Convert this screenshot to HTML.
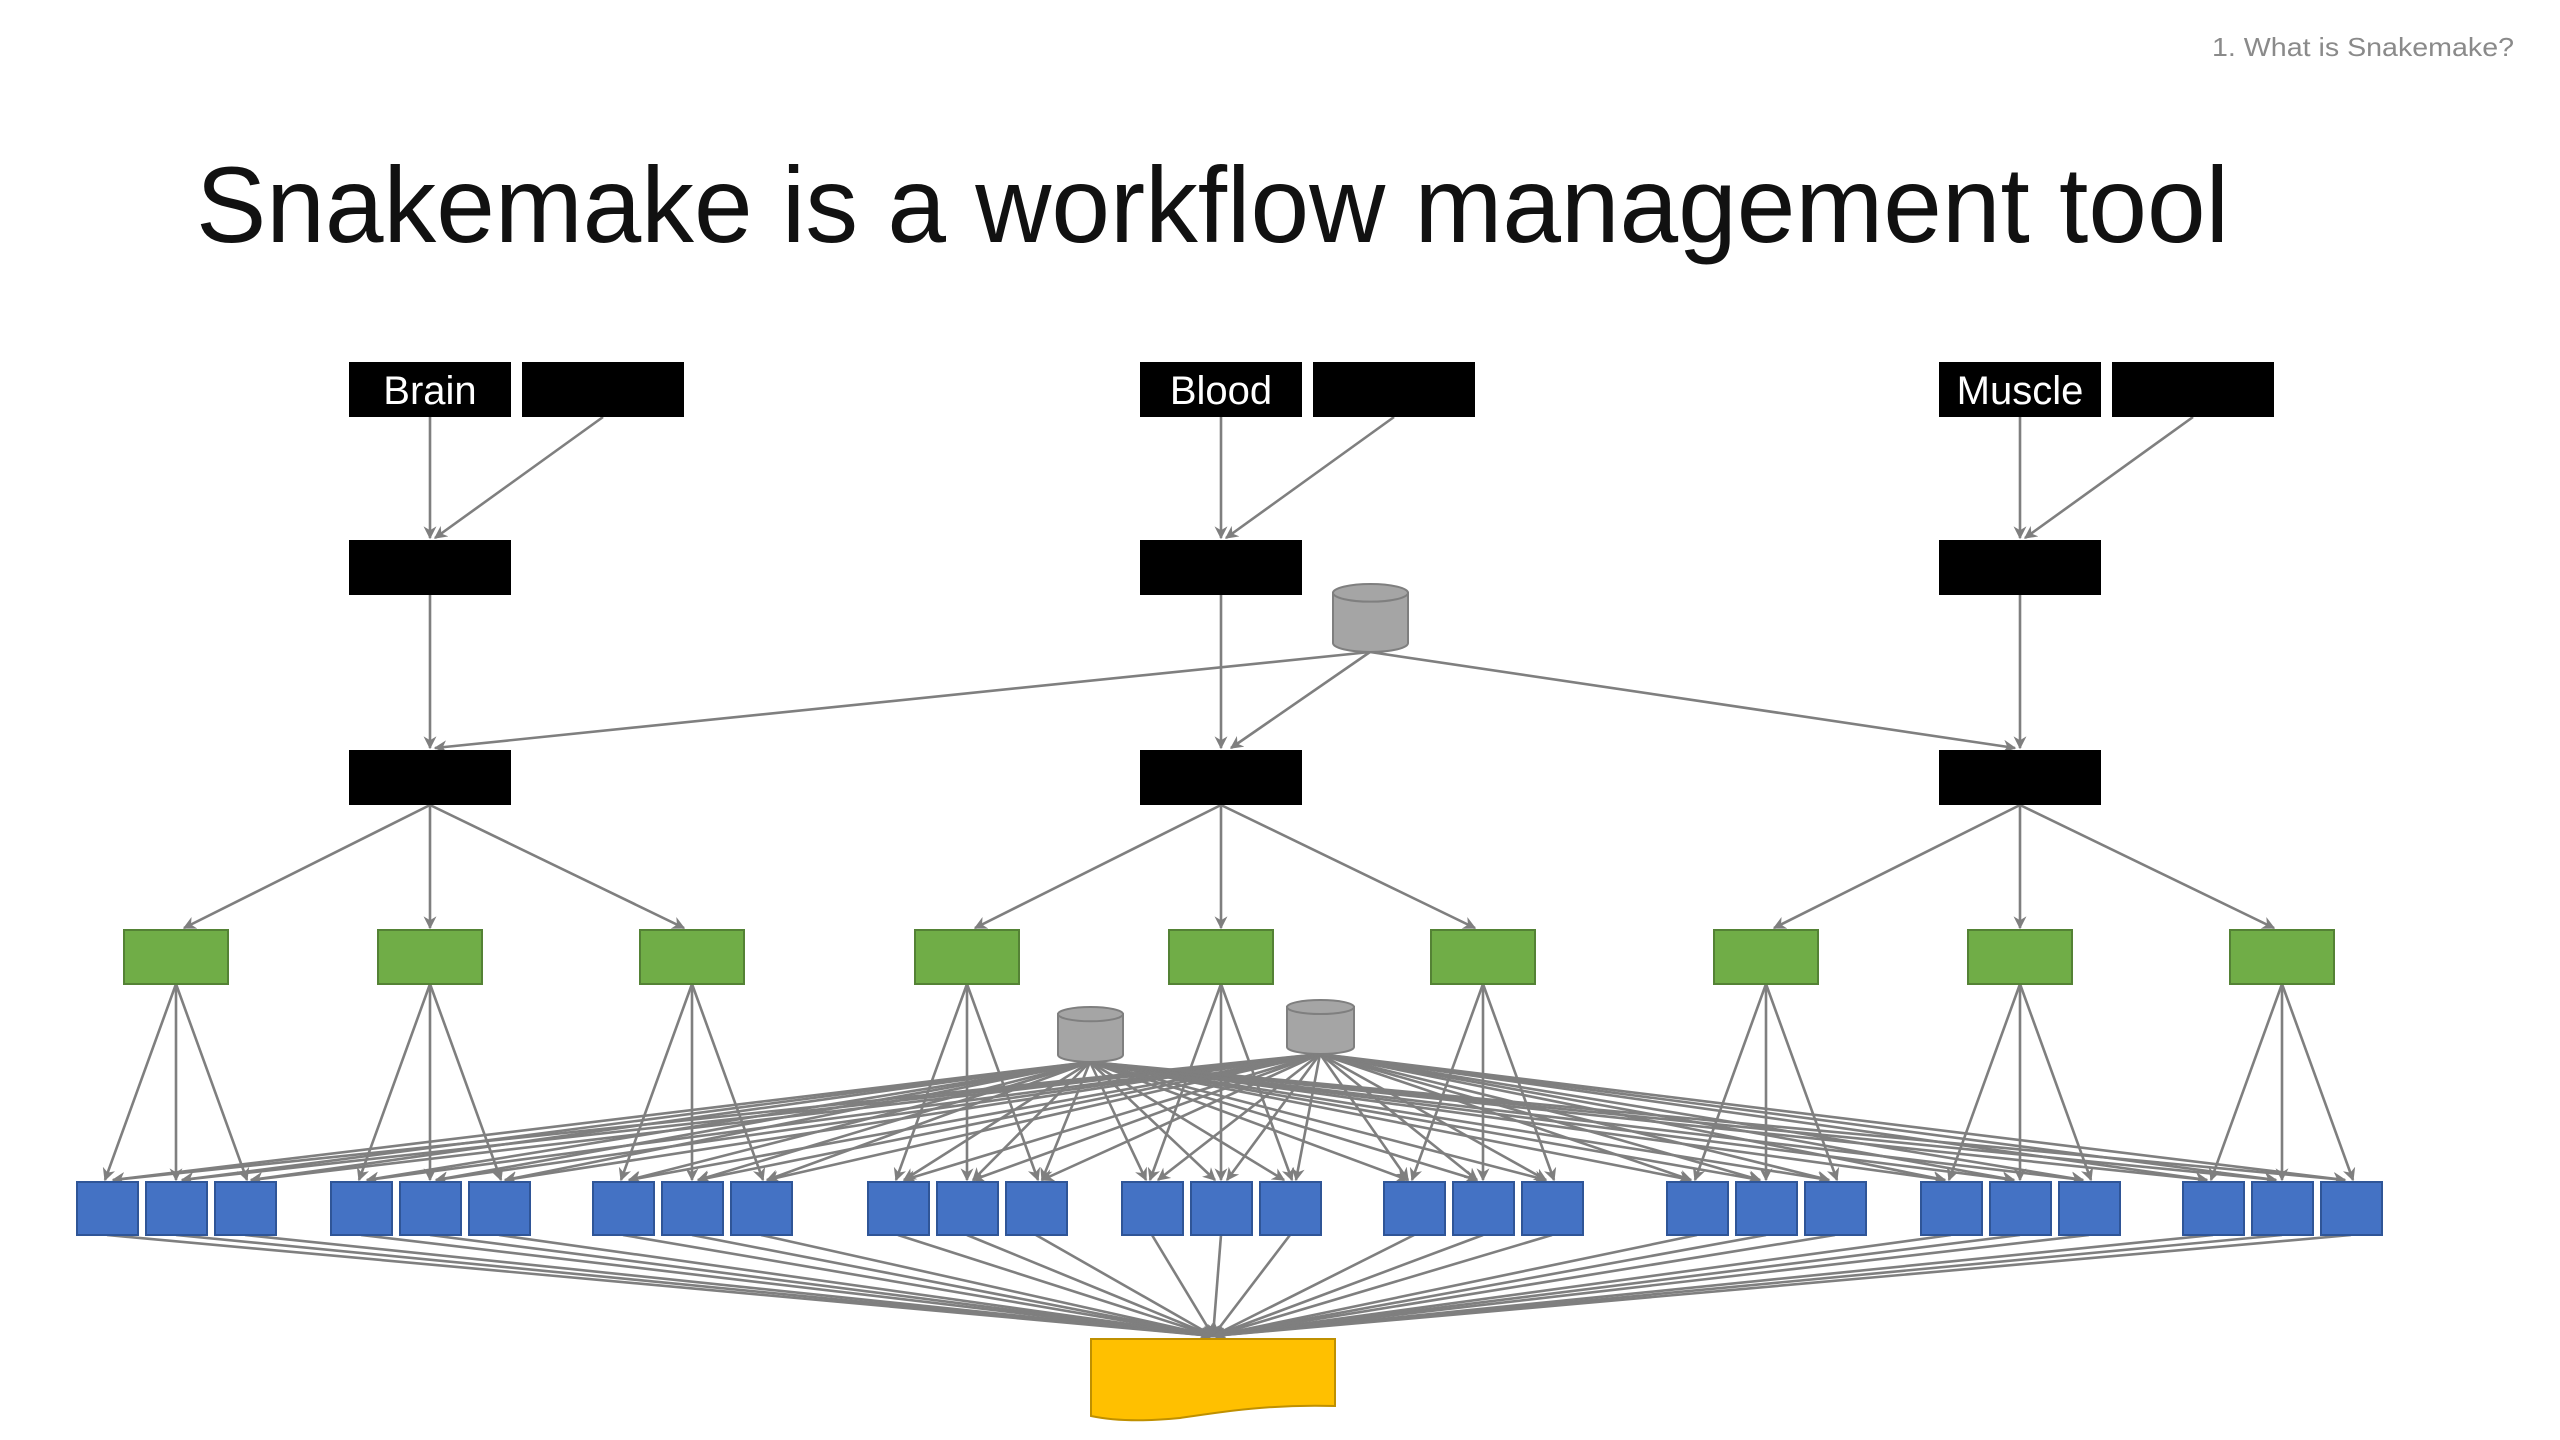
<!DOCTYPE html>
<html><head><meta charset="utf-8"><style>
html,body{margin:0;padding:0;background:#fff;}
svg{display:block;}
</style></head><body>
<svg id="s" width="2560" height="1440" viewBox="0 0 2560 1440" xmlns="http://www.w3.org/2000/svg">
<defs>
<marker id="a" viewBox="0 0 10 10" refX="9" refY="5" markerWidth="5" markerHeight="5" orient="auto" markerUnits="strokeWidth">
<path d="M0,0 L10,5 L0,10 L3,5 z" fill="#7f7f7f"/>
</marker>
</defs>
<rect width="2560" height="1440" fill="#fff"/>
<text x="2514" y="56" font-family="Liberation Sans, sans-serif" font-size="26" fill="#8a8a8a" text-anchor="end" textLength="302" lengthAdjust="spacingAndGlyphs">1. What is Snakemake?</text>
<text x="196" y="242" font-family="Liberation Sans, sans-serif" font-size="108" fill="#111" textLength="2033" lengthAdjust="spacingAndGlyphs">Snakemake is a workflow management tool</text>
<g id="edges" stroke="#7f7f7f" stroke-width="2.6" fill="none"></g>
<g id="nodes"></g>
<g font-family="Liberation Sans, sans-serif" font-size="40" fill="#fff" text-anchor="middle">
<text x="430" y="404">Brain</text>
<text x="1221" y="404">Blood</text>
<text x="2020" y="404">Muscle</text>
</g>
</svg>
<script>
var NS="http://www.w3.org/2000/svg";
var E=document.getElementById('edges'),N=document.getElementById('nodes');
function el(p,t,a){var e=document.createElementNS(NS,t);for(var k in a)e.setAttribute(k,a[k]);p.appendChild(e);return e;}
function ln(x1,y1,x2,y2){el(E,'line',{x1:x1,y1:y1,x2:x2,y2:y2,'marker-end':'url(#a)'});}
function rect(x,y,w,h,f,s){el(N,'rect',{x:x,y:y,width:w,height:h,fill:f,stroke:s||'none','stroke-width':2});}
function cyl(x1,x2,y1,y2){var cx=(x1+x2)/2,rx=(x2-x1)/2,ry=(y2-y1)*0.13;
 el(N,'path',{d:'M'+x1+','+(y1+ry)+' L'+x1+','+(y2-ry)+' A'+rx+','+ry+' 0 0 0 '+x2+','+(y2-ry)+' L'+x2+','+(y1+ry)+' Z',fill:'#a5a5a5',stroke:'#7f7f7f','stroke-width':2});
 el(N,'ellipse',{cx:cx,cy:y1+ry,rx:rx,ry:ry,fill:'#a5a5a5',stroke:'#7f7f7f','stroke-width':2});}
var C=[430,1221,2020];
var G=[[176,430,692],[967,1221,1483],[1766,2020,2282]];
var blues=[];
C.forEach(function(c,i){
 rect(c-81,362,162,55,'#000');rect(c+92,362,162,55,'#000');
 rect(c-81,540,162,55,'#000');rect(c-81,750,162,55,'#000');
 ln(c,417,c,538);ln(c+173,417,c+5,538);
 ln(c,595,c,748);
 ln(1370,652,c+(c<1370?5:-5)+(c==1221?5:0),748);
 G[i].forEach(function(g){
  rect(g-52,930,104,54,'#70ad47','#548235');
  var tx=g+(g<c?8:(g>c?-8:0));
  ln(c,805,tx,928);
  [-69,0,69].forEach(function(d){
   var b=g+d;blues.push(b);
   ln(g,984,b+(d<0?-2:d>0?2:0),1180);
  });
 });
});
blues.forEach(function(b){
 ln(1090,1062,b+(b<1090?6:-6),1180);
 ln(1320,1054,b+(b<1320?6:-6),1180);
 ln(b,1235,1213,1336);
});
blues.forEach(function(b){rect(b-30,1182,61,53,'#4472c4','#2f5597');});
cyl(1333,1408,584,652);
cyl(1058,1123,1007,1062);
cyl(1287,1354,1000,1054);
el(N,'path',{d:'M1091,1339 L1335,1339 L1335,1406 C1270,1404 1220,1412 1180,1418 C1140,1422 1110,1420 1091,1416 Z',fill:'#ffc000',stroke:'#bf9000','stroke-width':2});
</script>
</body></html>
